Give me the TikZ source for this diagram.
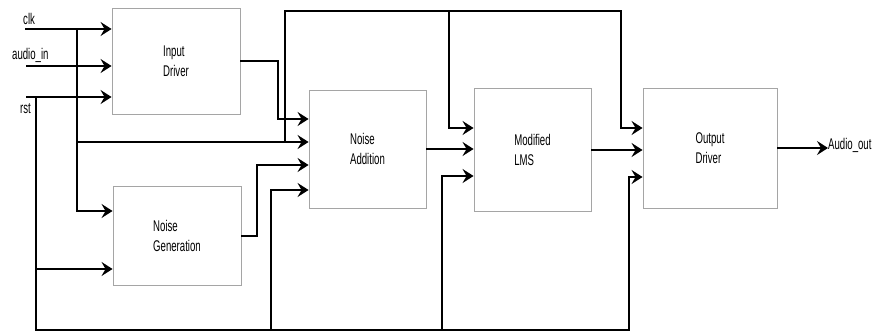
\documentclass[tikz,border=0pt]{standalone}
\usepackage{fontspec}
\setmainfont[FakeStretch=0.62]{Liberation Sans}
\usetikzlibrary{arrows.meta,calc}
\definecolor{boxgray}{RGB}{165,165,165}
\tikzset{
  blk/.style={draw=boxgray, line width=0.9pt, fill=white, align=left, inner sep=0pt,
              font=\fontsize{15.5}{20}\selectfont},
  wire/.style={line width=2pt, black},
  arr/.style={wire, -{Stealth[length=11pt,width=14pt,inset=4pt]}},
  lbl/.style={anchor=west, inner sep=0pt, font=\fontsize{15.5}{18}\selectfont}
}
\begin{document}
\begin{tikzpicture}[x=1pt,y=-1pt]
\useasboundingbox (0,0) rectangle (872,332);

% blocks
\node[blk, minimum width=128pt, minimum height=106pt] (inp) at (176,61) {Input\\Driver};
\node[blk, minimum width=128pt, minimum height=99pt]  (ng)  at (177,235.5) {Noise\\Generation};
\node[blk, minimum width=117pt, minimum height=118pt] (na)  at (367.5,149) {Noise\\Addition};
\node[blk, minimum width=117pt, minimum height=123pt] (lms) at (532.5,150) {Modified\\LMS};
\node[blk, minimum width=134pt, minimum height=120pt] (od)  at (710,148) {Output\\Driver};

% labels
\node[lbl] (clk) at (23,19) {clk};
\node[lbl] (ain) at (12,55) {audio\_in};
\node[lbl] (rst) at (20,109) {rst};
\node[lbl] (aout) at (828,145) {Audio\_out};

% input lines
\coordinate (clkL) at (25,29);
\coordinate (audL) at (26,66);
\coordinate (rstL) at (26,97);
\draw[arr] (clkL) -- (clkL -| inp.west);
\draw[arr] (audL) -- (audL -| inp.west);
\draw[arr] (rstL) -- (rstL -| inp.west);

% clock distribution
\coordinate (cv) at (77,29);
\coordinate (j1) at (77,211);
\coordinate (j2) at (77,142);
\draw[arr] (cv) -- (j1) -- (j1 -| ng.west);
\draw[arr] (j2) -- (j2 -| na.west);
\coordinate (t1) at (285,142);
\coordinate (t2) at (285,11);
\coordinate (t3) at (621,11);
\coordinate (t4) at (621,128);
\coordinate (t5) at (449,11);
\coordinate (t6) at (449,128);
\draw[arr] (t1) -- (t2) -- (t3) -- (t4) -- (t4 -| od.west);
\draw[arr] (t5) -- (t6) -- (t6 -| lms.west);

% reset distribution
\coordinate (r1) at (36,97);
\coordinate (r2) at (36,330);
\coordinate (r3) at (629,330);
\coordinate (r4) at (629,177);
\draw[arr] (r1) -- (r2) -- (r3) -- (r4) -- (r4 -| od.west);
\coordinate (r5) at (36,269);
\draw[arr] (r5) -- (r5 -| ng.west);
\coordinate (r6) at (271,330);
\coordinate (r7) at (271,190);
\draw[arr] (r6) -- (r7) -- (r7 -| na.west);
\coordinate (r8) at (442,330);
\coordinate (r9) at (442,176);
\draw[arr] (r8) -- (r9) -- (r9 -| lms.west);

% data path
\coordinate (j3) at (278,119);
\draw[arr] (inp.east) -| (j3) -- (j3 -| na.west);
\coordinate (j4) at (257,165);
\draw[arr] (ng.east) -| (j4) -- (j4 -| na.west);
\draw[arr] (na.east) -- (na.east -| lms.west);
\draw[arr] (lms.east) -- (lms.east -| od.west);
\draw[arr] (od.east) -- (od.east -| aout.west);
\end{tikzpicture}
\end{document}
